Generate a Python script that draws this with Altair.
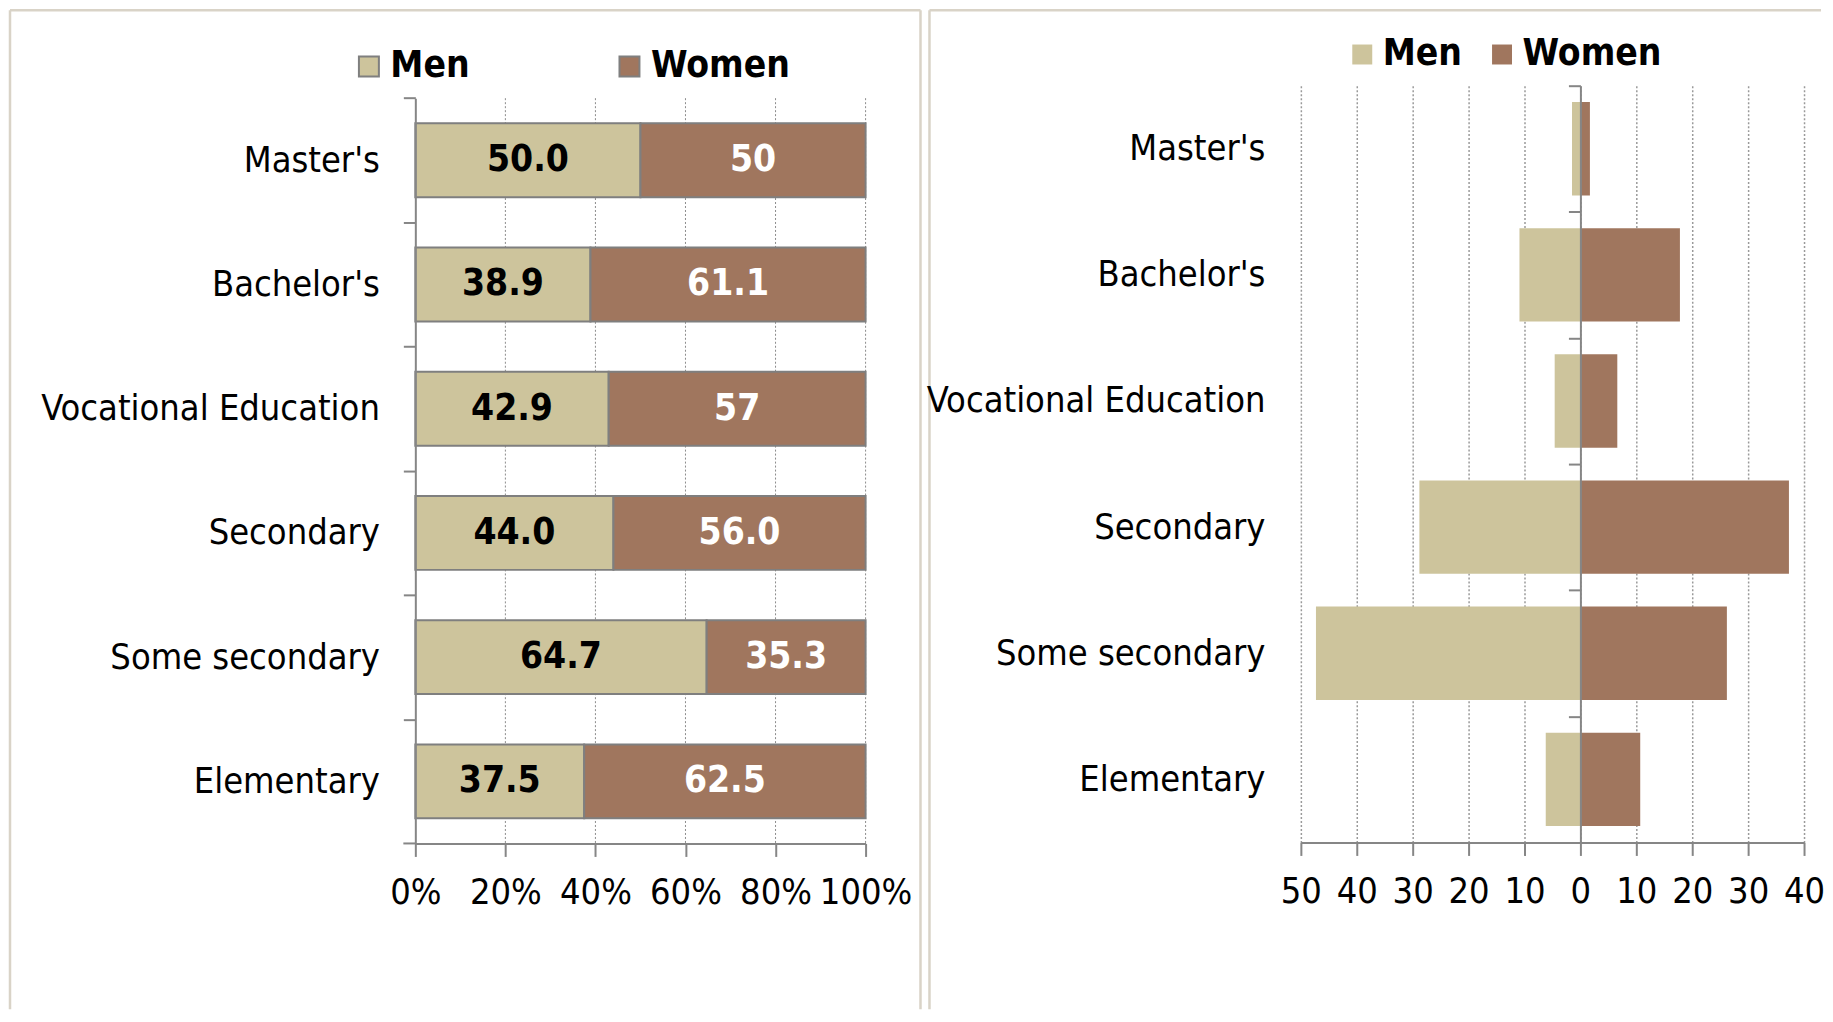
import altair as alt
import pandas as pd

# ---------------- data ----------------
categories = ["Master's", "Bachelor's", "Vocational Education", "Secondary",
              "Some secondary", "Elementary"]
genders = ["Men", "Women"]
colors = ["#CDC49C", "#A0765E"]

# left panel: share of men / women within each education level (%)
share_men = [50.0, 38.9, 42.9, 44.0, 64.7, 37.5]
share_women = [50.0, 61.1, 57.0, 56.0, 35.3, 62.5]
label_men = ["50.0", "38.9", "42.9", "44.0", "64.7", "37.5"]
label_women = ["50", "61.1", "57", "56.0", "35.3", "62.5"]

# right panel: distribution of each gender over education levels (%)
dist_men = [1.5, 10.9, 4.6, 28.8, 47.3, 6.2]
dist_women = [1.7, 17.8, 6.6, 37.3, 26.2, 10.7]

pct_ticks = [0, 20, 40, 60, 80, 100]
dist_ticks = [-50, -40, -30, -20, -10, 0, 10, 20, 30, 40]

FONT = "DejaVu Sans Condensed, DejaVu Sans, sans-serif"
GRAY = "#868686"
BORDER = "#D9D3C7"
FS = 36

# ---------------- tables ----------------
rows = []
for c, m, w, lm, lw in zip(categories, share_men, share_women, label_men, label_women):
    tot = m + w
    mend = m / tot * 100
    rows.append(dict(category=c, gender="Men", start=0.0, end=mend,
                     mid=mend / 2, label=lm))
    rows.append(dict(category=c, gender="Women", start=mend, end=100.0,
                     mid=(mend + 100) / 2, label=lw))
left_df = pd.DataFrame(rows)

rrows = []
for c, m, w in zip(categories, dist_men, dist_women):
    rrows.append(dict(category=c, gender="Men", value=-m))
    rrows.append(dict(category=c, gender="Women", value=w))
right_df = pd.DataFrame(rrows)

left_grid_df = pd.DataFrame({"tick": pct_ticks[1:]})
one = pd.DataFrame({"k": [0]})


def rule(x, y, x2=None, y2=None, color=BORDER, width=2.5):
    enc = dict(x=alt.value(x), y=alt.value(y))
    if x2 is not None:
        enc["x2"] = alt.value(x2)
    if y2 is not None:
        enc["y2"] = alt.value(y2)
    return alt.Chart(one).mark_rule(color=color, strokeWidth=width).encode(**enc)


B_TOP = -75.5

# ---------------- left panel ----------------
LW, LH = 451, 759
L_TOP = 12.5
L_PI = 0.405
l_step = (LH - L_TOP) / 6.0
l_half_gap = l_step * L_PI / 2.0

y_left_scale = alt.Scale(domain=categories, range=[L_TOP, LH],
                         paddingInner=L_PI, paddingOuter=L_PI / 2)
y_left_axis = alt.Axis(title=None, orient="left", bandPosition=0,
                       tickOffset=-l_half_gap, labelOffset=l_half_gap,
                       tickSize=12, tickColor=GRAY, tickWidth=2,
                       domainColor=GRAY, domainWidth=2,
                       labelPadding=24, labelFontSize=FS, labelColor="#000000",
                       labelLimit=2000, labelFont=FONT, zindex=1)
x_left_axis = alt.Axis(title=None, values=pct_ticks, labelExpr="datum.value + '%'",
                       grid=False, tickSize=13, tickColor=GRAY, tickWidth=2,
                       domainColor=GRAY, domainWidth=2, labelPadding=19,
                       labelFontSize=FS, labelColor="#000000", labelFont=FONT,
                       labelFlush=False, labelOverlap=False)

left_grid = alt.Chart(left_grid_df).mark_rule(
    strokeDash=[2, 2], color="#8C8C8C", strokeWidth=1
).encode(
    x=alt.X("tick:Q", title=None, scale=alt.Scale(domain=[0, 100], nice=False),
            axis=x_left_axis),
    y=alt.value(L_TOP), y2=alt.value(LH),
)

left_bars = alt.Chart(left_df).mark_bar(stroke="#7F7F7F", strokeWidth=2).encode(
    x=alt.X("start:Q", title=None),
    x2="end:Q",
    y=alt.Y("category:N", scale=y_left_scale, axis=y_left_axis),
    color=alt.Color("gender:N", scale=alt.Scale(domain=genders, range=colors),
                    legend=alt.Legend(orient="none", legendX=-65, legendY=-38,
                                      direction="horizontal", title=None,
                                      symbolType="square", symbolSize=400,
                                      symbolStrokeColor="#7F7F7F",
                                      symbolStrokeWidth=2, symbolOpacity=1,
                                      labelFont=FONT, labelFontSize=37,
                                      labelFontWeight="bold", labelColor="#000000",
                                      labelOffset=3, columnPadding=141,
                                      labelLimit=1000)),
)

left_text = alt.Chart(left_df).mark_text(
    font=FONT, fontSize=37, fontWeight="bold", align="center", baseline="middle"
).encode(
    x=alt.X("mid:Q", title=None),
    y=alt.Y("category:N", title=None),
    text="label:N",
    color=alt.condition("datum.gender === 'Men'", alt.value("#000000"),
                        alt.value("#FFFFFF")),
)

left = alt.layer(
    left_grid, left_bars, left_text,
    rule(-12, LH, x2=0, color=GRAY, width=2),      # closing y tick at bottom
    rule(-406, B_TOP, x2=506),
    rule(-406, B_TOP, y2=925),
    rule(506, B_TOP, y2=925),
).properties(width=LW, height=LH)

# ---------------- right panel ----------------
RW, RH = 504, 758
R_PI = 0.26
r_step = RH / 6.0
r_half_gap = r_step * R_PI / 2.0

y_right_axis = alt.Axis(title=None, orient="left", offset=-280, bandPosition=0,
                        tickOffset=-r_half_gap, labelOffset=r_half_gap,
                        tickSize=12, tickColor=GRAY, tickWidth=2, domainColor=GRAY,
                        domainWidth=2, labelPadding=304, labelFontSize=FS,
                        labelColor="#000000", labelLimit=2000, labelFont=FONT,
                        zindex=1)
x_right_axis = alt.Axis(title=None, values=dist_ticks,
                        labelExpr="abs(datum.value)", grid=True, gridDash=[2, 2],
                        gridColor="#9A9A9A", gridWidth=1.5, tickSize=13,
                        tickColor=GRAY, tickWidth=2, domainColor=GRAY,
                        domainWidth=2, labelPadding=19, labelFontSize=FS,
                        labelColor="#000000", labelFont=FONT, labelFlush=False,
                        labelOverlap=False, zindex=0)

right_bars = alt.Chart(right_df).mark_bar().encode(
    x=alt.X("value:Q", stack=None, scale=alt.Scale(domain=[-50, 40], nice=False),
            axis=x_right_axis),
    y=alt.Y("category:N", scale=alt.Scale(domain=categories, paddingInner=R_PI,
                                          paddingOuter=R_PI / 2),
            axis=y_right_axis),
    color=alt.Color("gender:N", scale=alt.Scale(domain=genders, range=colors),
                    legend=alt.Legend(orient="none", legendX=43, legendY=-50,
                                      direction="horizontal", title=None,
                                      symbolType="square", symbolSize=400,
                                      symbolStrokeWidth=0, symbolOpacity=1,
                                      labelFont=FONT, labelFontSize=37,
                                      labelFontWeight="bold", labelColor="#000000",
                                      labelOffset=2, columnPadding=21,
                                      labelLimit=1000)),
)

right = alt.layer(
    right_bars,
    rule(-372, B_TOP, x2=521),
    rule(-372, B_TOP, y2=925),
).properties(width=RW, height=RH)

chart = alt.hconcat(left, right, spacing=436, bounds="flush").resolve_scale(
    color="independent"
).properties(
    padding={"left": 0, "top": 0, "right": 0, "bottom": 0}
).configure(font=FONT).configure_view(stroke=None)

chart.save("out.html", embed_options={"renderer": "svg", "actions": False})
